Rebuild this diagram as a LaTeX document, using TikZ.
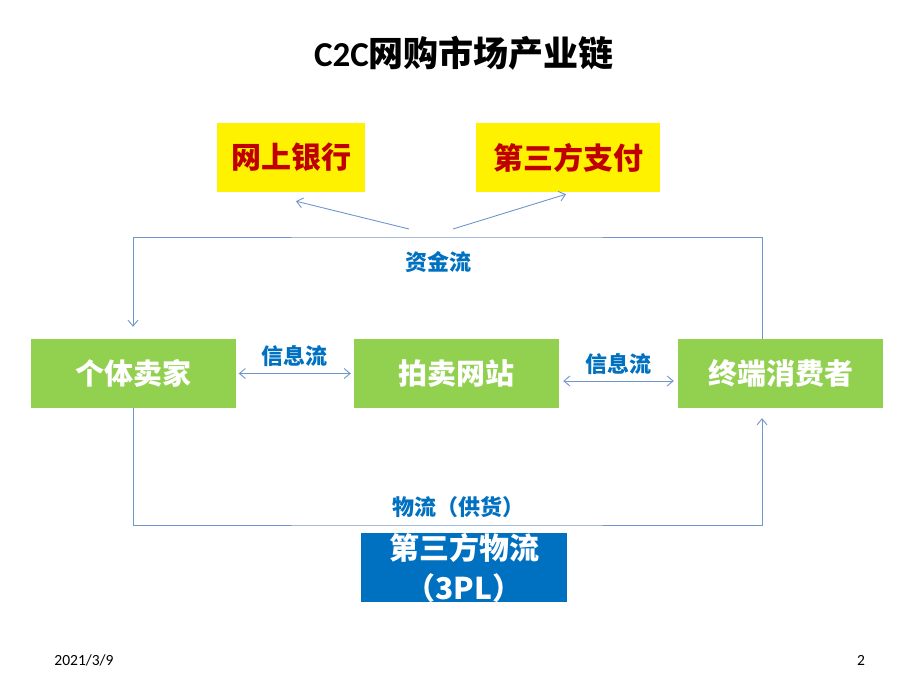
\documentclass[tikz,border=0pt]{standalone}
\usepackage{fontspec}
\setmainfont{Carlito}
\newfontfamily\cjk{Noto Sans CJK SC}
\usepackage{xcolor}
\usetikzlibrary{arrows.meta, positioning}
\definecolor{mkgreen}{HTML}{92D050}
\definecolor{mkblue}{HTML}{0070C0}
\definecolor{mkred}{HTML}{C00000}
\definecolor{mkline}{HTML}{7096CC}
\tikzset{
		pay box/.style={fill=yellow, text=mkred, minimum height=69pt, inner sep=0pt,
			font=\cjk\bfseries\fontsize{30}{32}\selectfont},
		party box/.style={fill=mkgreen, text=white, minimum width=205pt, minimum height=69pt, inner sep=0pt,
			font=\cjk\bfseries\fontsize{29}{32}\selectfont},
		tpl box/.style={fill=mkblue, text=white, minimum width=206pt, minimum height=69pt, inner sep=0pt,
			align=center, font=\cjk\bfseries\fontsize{30}{40}\selectfont},
		flow label/.style={text=mkblue, inner sep=1pt, font=\cjk\bfseries\fontsize{22}{24}\selectfont},
		flow/.style={draw=mkline, line width=0.9pt},
		foot/.style={font=\fontsize{15.5}{17}\selectfont}
	}
\begin{document}
\begin{tikzpicture}[x=1pt, y=-1pt, >={Straight Barb[length=6pt,width=10pt]}]
				\useasboundingbox (0,0) rectangle (920,690);
				% title
				\node (title) at (464,53) {\fontsize{35}{38}\selectfont\bfseries C2C\cjk 网购市场产业链};
				% payment side
				\node[pay box, minimum width=148pt] (bank) at (291,157.5) {网上银行};
				\node[pay box, minimum width=184pt] (third) at (568,157.5) {第三方支付};
				% the three parties
				\node[party box] (seller) at (133,373.5)   {个体卖家};
				\node[party box] (site)   at (456.5,373.5) {拍卖网站};
				\node[party box] (buyer)  at (780.5,373.5) {终端消费者};
				\node[tpl box]   (tpl)    at (464,567.5)   {第三方物流\\（3PL）};
				\coordinate (mtop) at (446,237);
				\coordinate (lbot) at (446,525);
				\coordinate (mleft) at (409,229);
				\coordinate (mright) at (453,229);
				% money flow
				\draw[flow,->,shorten >=12pt] ([xshift=-18.5pt]buyer.north) |- (mtop) -| (seller.north);
				\draw[flow,->] (mleft) -- ([xshift=5pt,yshift=-9pt]bank.south);
				\draw[flow,->] (mright) -- ([xshift=-2pt,yshift=-2pt]third.south);
				\node[flow label] (money) at (438.5,262) {资金流};
				% information flow
				\draw[flow,<->,shorten >=3pt,shorten <=3pt] (seller) -- (site)
					node[flow label, midway, above=5pt] (info1) {信息流};
				\draw[flow,<->,shorten >=4pt,shorten <=4pt] ([yshift=-7.5pt]site.east) -- ([yshift=-7.5pt]buyer.west)
					node[flow label, midway, above=5pt] (info2) {信息流};
				% goods
				\draw[flow,->,shorten >=10pt] (seller.south) |- (lbot) -| ([xshift=-18.5pt]buyer.south);
				\node[flow label] (goods) at (458,507) {物流（供货）};
				% footer
				\node[foot] (date) at (84,660) {2021/3/9};
				\node[foot] (page) at (861,660) {2};
			\end{tikzpicture}
\end{document}
